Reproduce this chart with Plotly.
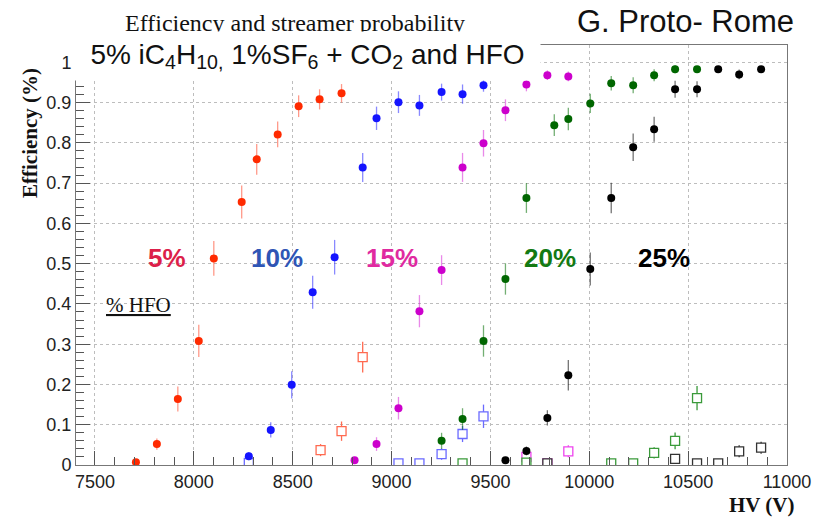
import plotly.graph_objects as go

# ---- measured data: efficiency (filled) and streamer probability (open) ----
# 5% HFO
hv_eff_5 = [7707, 7813, 7919, 8025, 8101, 8242, 8318, 8424, 8530, 8636, 8747]
eff_5 = [0.007, 0.052, 0.164, 0.308, 0.513, 0.653, 0.759, 0.821, 0.891, 0.908, 0.923]
eff_err_5 = [0.005, 0.014, 0.031, 0.040, 0.043, 0.041, 0.038, 0.032, 0.027, 0.025, 0.023]
hv_str_5 = [8641, 8747, 8854]
str_5 = [0.037, 0.084, 0.268]
str_err_5 = [0.015, 0.024, 0.038]

# 10% HFO
hv_eff_10 = [8278, 8389, 8495, 8601, 8712, 8854, 8924, 9035, 9141, 9253, 9359, 9465]
eff_10 = [0.022, 0.087, 0.199, 0.429, 0.516, 0.739, 0.861, 0.901, 0.893, 0.926, 0.921, 0.943]
eff_err_10 = [0.010, 0.019, 0.034, 0.041, 0.043, 0.036, 0.029, 0.027, 0.026, 0.021, 0.024, 0.016]
hv_str_10 = [8278, 9035, 9141, 9253, 9359, 9465]
str_10 = [0.005, 0.004, 0.004, 0.027, 0.077, 0.121]
str_err_10 = [0.004, 0.003, 0.003, 0.014, 0.020, 0.029]

# 15% HFO
hv_eff_15 = [8813, 8924, 9035, 9141, 9253, 9359, 9465, 9576, 9682, 9788, 9894]
eff_15 = [0.012, 0.052, 0.141, 0.382, 0.484, 0.739, 0.799, 0.881, 0.945, 0.968, 0.965]
eff_err_15 = [0.006, 0.017, 0.028, 0.040, 0.037, 0.036, 0.033, 0.027, 0.017, 0.012, 0.012]
hv_str_15 = [9682, 9788, 9894]
str_15 = [0.020, 0.004, 0.034]
str_err_15 = [0.012, 0.003, 0.015]

# 20% HFO
hv_eff_20 = [9253, 9359, 9465, 9576, 9682, 9823, 9894, 10005, 10111, 10222, 10328, 10434, 10545]
eff_20 = [0.060, 0.114, 0.308, 0.462, 0.663, 0.844, 0.859, 0.898, 0.948, 0.943, 0.968, 0.983, 0.983]
eff_err_20 = [0.020, 0.027, 0.039, 0.039, 0.037, 0.027, 0.028, 0.024, 0.018, 0.020, 0.015, 0.010, 0.008]
hv_str_20 = [9359, 9682, 10111, 10222, 10328, 10434, 10545]
str_20 = [0.004, 0.006, 0.004, 0.004, 0.030, 0.060, 0.166]
str_err_20 = [0.003, 0.003, 0.003, 0.003, 0.014, 0.021, 0.030]

# 25% HFO
hv_eff_25 = [9576, 9682, 9788, 9894, 10005, 10111, 10222, 10328, 10434, 10545, 10652, 10758, 10869]
eff_25 = [0.012, 0.035, 0.117, 0.223, 0.487, 0.663, 0.789, 0.834, 0.933, 0.933, 0.983, 0.970, 0.983]
eff_err_25 = [0.006, 0.011, 0.019, 0.038, 0.041, 0.038, 0.034, 0.031, 0.021, 0.020, 0.008, 0.012, 0.008]
hv_str_25 = [9788, 10434, 10545, 10652, 10758, 10869]
str_25 = [0.004, 0.015, 0.004, 0.004, 0.034, 0.043]
str_err_25 = [0.003, 0.008, 0.003, 0.003, 0.015, 0.015]

# ---- styles per HFO fraction ----
series = [
    ("5%",  hv_eff_5,  eff_5,  eff_err_5,  hv_str_5,  str_5,  str_err_5,
     "#ff2a00", "rgba(255,70,40,0.55)", "#ff6a50", "#dc1f4a", 7864),
    ("10%", hv_eff_10, eff_10, eff_err_10, hv_str_10, str_10, str_err_10,
     "#1414ff", "rgba(40,40,255,0.55)", "#6a6aff", "#2f55b5", 8419),
    ("15%", hv_eff_15, eff_15, eff_err_15, hv_str_15, str_15, str_err_15,
     "#cc00cc", "rgba(215,40,215,0.55)", "#ee44ee", "#e02aa0", 9000),
    ("20%", hv_eff_20, eff_20, eff_err_20, hv_str_20, str_20, str_err_20,
     "#006600", "rgba(0,110,0,0.55)", "#3a9a3a", "#137a13", 9803),
    ("25%", hv_eff_25, eff_25, eff_err_25, hv_str_25, str_25, str_err_25,
     "#000000", "rgba(0,0,0,0.55)", "#333333", "#000000", 10379),
]

SANS = "Liberation Sans, Arial, sans-serif"
SERIF = "Liberation Serif, Times New Roman, serif"

fig = go.Figure()
annotations = []

for (lab, hv_e, ef, ef_err, hv_s, st, st_err,
     col, bar_col, sq_col, lab_col, lab_x) in series:
    # streamer probability: open squares
    fig.add_trace(go.Scatter(
        x=hv_s, y=st, mode="markers",
        error_y=dict(type="data", array=st_err, color=sq_col, thickness=1.3, width=0),
        marker=dict(symbol="square", size=9, color="white",
                    line=dict(color=sq_col, width=1.3)),
        showlegend=False, hoverinfo="x+y",
    ))
    # efficiency: filled circles
    fig.add_trace(go.Scatter(
        x=hv_e, y=ef, mode="markers",
        error_y=dict(type="data", array=ef_err, color=bar_col, thickness=1.3, width=0),
        marker=dict(symbol="circle", size=8, color=col),
        showlegend=False, hoverinfo="x+y",
    ))
    annotations.append(dict(
        x=lab_x, y=0.514, xref="x", yref="y", text=f"<b>{lab}</b>",
        xanchor="center", yanchor="middle",
        showarrow=False, font=dict(family=SANS, size=26, color=lab_col),
    ))

# plot-area helpers (pixels -> paper)
L, R, T, B = 76, 787, 45, 465
def px(x):
    return (x - L) / (R - L)
def py(y):
    return (B - y) / (B - T)

def note(x, y, text, **kw):
    d = dict(x=px(x), y=py(y), xref="paper", yref="paper", text=text,
             showarrow=False, xanchor="center", yanchor="middle")
    d.update(kw)
    return d

annotations += [
    note(295, 23, "Efficiency and streamer probability",
         font=dict(family=SERIF, size=24, color="#111")),
    note(307.5, 56,
         "5% iC<sub>4</sub>H<sub>10,</sub> 1%SF<sub>6</sub> + CO<sub>2</sub> and HFO",
         bgcolor="white", width=465, height=48, borderpad=0,
         font=dict(family=SANS, size=28, color="#111")),
    note(685, 22, "G. Proto- Rome", font=dict(family=SANS, size=31, color="#111")),
    dict(x=7722, y=0.397, xref="x", yref="y", text="<u>% HFO</u>",
         xanchor="center", yanchor="middle",
         showarrow=False, font=dict(family=SERIF, size=21, color="#111")),
    note(30, 133, "<b>Efficiency (%)</b>", textangle=-90,
         font=dict(family=SERIF, size=21, color="#111")),
    note(762, 505, "<b>HV (V)</b>", font=dict(family=SERIF, size=21, color="#111")),
]

axis_common = dict(
    ticks="inside", ticklen=14, tickcolor="#555", tickwidth=1,
    showgrid=True, gridcolor="#bdbdbd", griddash="dot", gridwidth=1,
    showline=True, linecolor="#777", linewidth=1, mirror=True,
    zeroline=False, tickfont=dict(family=SANS, size=18, color="#222"),
)

fig.update_layout(
    width=830, height=518,
    margin=dict(l=L, r=830 - R, t=T, b=518 - B),
    paper_bgcolor="white", plot_bgcolor="white",
    showlegend=False,
    annotations=annotations,
    xaxis=dict(range=[7404, 11000], tick0=7500, dtick=500, tickformat="d",
               minor=dict(dtick=100, tick0=7500, ticks="inside", ticklen=8,
                          tickcolor="#555", showgrid=False),
               **axis_common),
    yaxis=dict(range=[0, 1.043], tick0=0, dtick=0.1,
               minor=dict(dtick=0.02, tick0=0, ticks="inside", ticklen=8,
                          tickcolor="#555", showgrid=False),
               **axis_common),
)

fig.write_html("out.html")
